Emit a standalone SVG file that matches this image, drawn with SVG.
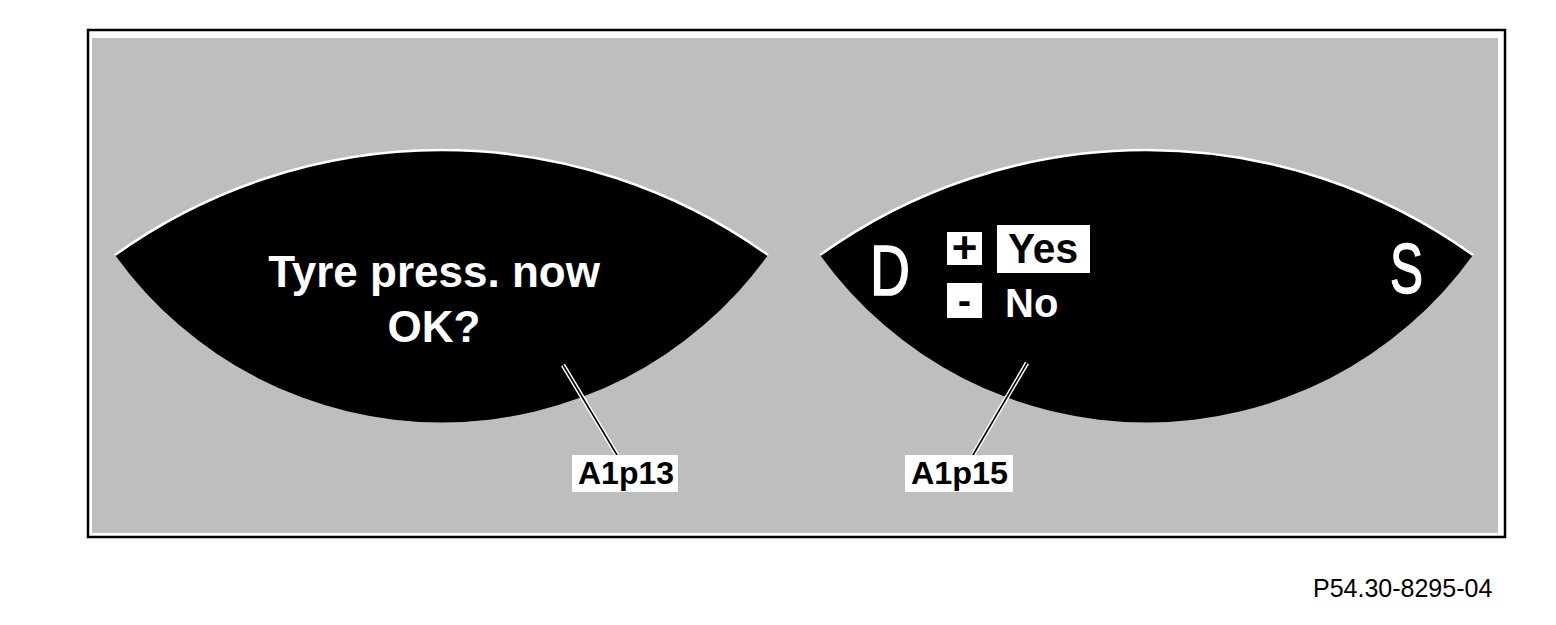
<svg xmlns="http://www.w3.org/2000/svg" width="1556" height="625" viewBox="0 0 1556 625">
<style>
.lens{fill:#000}
.rim{fill:none;stroke:#fff;stroke-width:2.5}
.wt{fill:#fff;font-family:"Liberation Sans",Arial,sans-serif}
.bt{fill:#000;font-family:"Liberation Sans",Arial,sans-serif}
.b{font-weight:bold}
.thick{stroke:#fff;stroke-width:1.5}
.halo{stroke:#fff;stroke-width:4.5;fill:none}
.lead{stroke:#000;stroke-width:1.6;fill:none}
.lbl{fill:#fff}
</style>
<defs>
<path id="lensShape" d="M115,255 A560,560 0 0 1 768,255 A402,402 0 0 1 115,255 Z"/>
<path id="rimShape" d="M115,255 A560,560 0 0 1 768,255"/>
</defs>
<rect x="0" y="0" width="1556" height="625" fill="#fff"/>
<rect x="88" y="30" width="1417" height="507" fill="#fff" stroke="#000" stroke-width="2.5"/>
<rect x="92" y="38" width="1406" height="495" fill="#bebebe"/>

<g id="display-left">
<use href="#lensShape" class="lens"/>
<use href="#rimShape" class="rim"/>
<text class="wt b" x="434" y="287" font-size="44" text-anchor="middle">Tyre press. now</text>
<text class="wt b" x="434" y="342" font-size="44" text-anchor="middle">OK?</text>
</g>

<g id="display-right">
<use href="#lensShape" class="lens" transform="translate(705,0)"/>
<use href="#rimShape" class="rim" transform="translate(705,0)"/>
<text class="wt thick" x="870" y="295" font-size="70" textLength="40" lengthAdjust="spacingAndGlyphs">D</text>
<text class="wt thick" x="1390" y="293" font-size="70" textLength="33" lengthAdjust="spacingAndGlyphs">S</text>
<rect x="947" y="232" width="35" height="33" fill="#fff"/>
<text class="bt b" x="964.5" y="263" font-size="44" text-anchor="middle">+</text>
<rect x="947" y="283" width="35" height="35" fill="#fff"/>
<text class="bt b" x="964.5" y="314" font-size="40" text-anchor="middle">-</text>
<rect x="997" y="225" width="93" height="48" fill="#fff"/>
<text class="bt b" x="1008" y="263" font-size="42" textLength="70" lengthAdjust="spacingAndGlyphs">Yes</text>
<text class="wt b" x="1005" y="317" font-size="40">No</text>
</g>

<g id="connectors">
<line class="halo" x1="563" y1="365" x2="617" y2="455"/>
<line class="lead" x1="563" y1="365" x2="617" y2="455"/>
<line class="halo" x1="1027" y1="363" x2="973" y2="455"/>
<line class="lead" x1="1027" y1="363" x2="973" y2="455"/>
</g>

<g id="label-A1p13">
<rect class="lbl" x="572" y="455" width="106" height="37"/>
<text class="bt b" x="578" y="484" font-size="31" textLength="96" lengthAdjust="spacingAndGlyphs">A1p13</text>
</g>
<g id="label-A1p15">
<rect class="lbl" x="905" y="455" width="108" height="37"/>
<text class="bt b" x="911" y="484" font-size="31" textLength="97" lengthAdjust="spacingAndGlyphs">A1p15</text>
</g>

<text class="bt" x="1313" y="597" font-size="25">P54.30-8295-04</text>
</svg>
